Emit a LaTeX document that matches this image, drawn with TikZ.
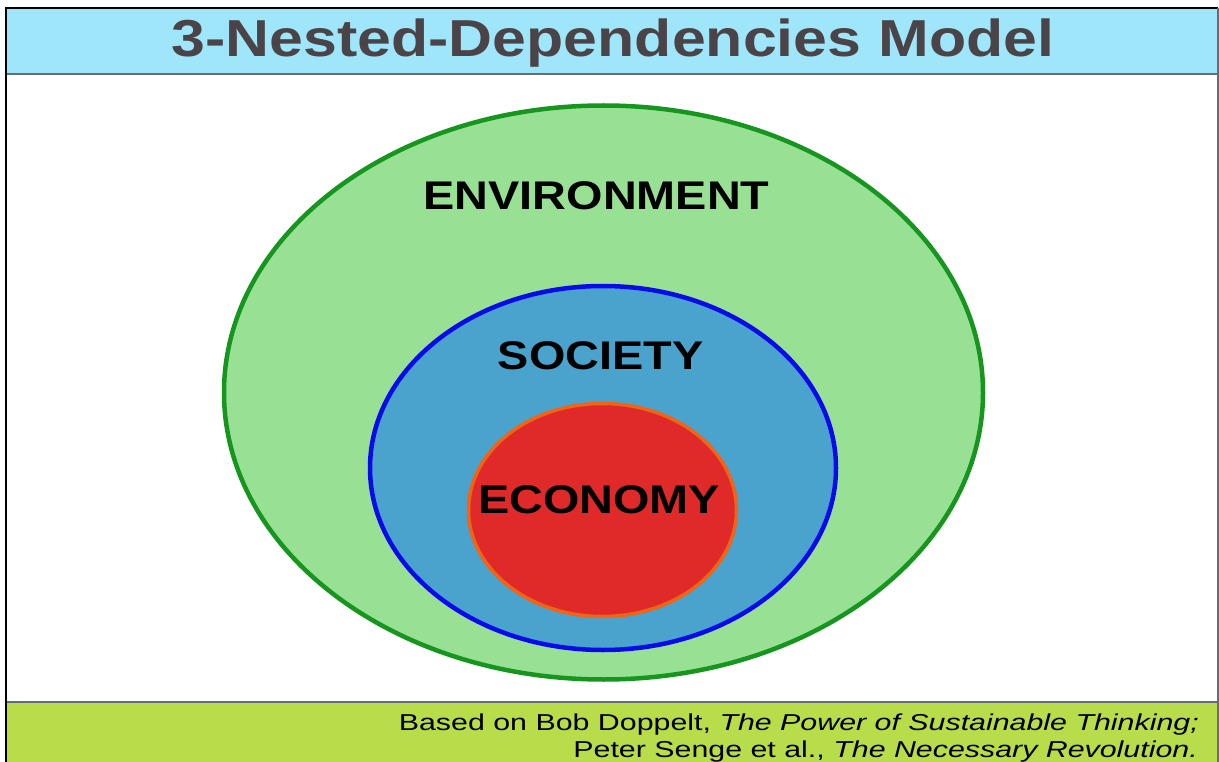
\documentclass[tikz,border=0pt]{standalone}
\usepackage{fontspec}
\setmainfont{Liberation Sans}
\newfontfamily\widefont[FakeStretch=1.17]{Liberation Sans}
\newfontfamily\footfont[FakeStretch=1.32]{Liberation Sans}
\usetikzlibrary{shapes.geometric}
\definecolor{titlebg}{RGB}{160,230,250}
\definecolor{titlefg}{RGB}{74,68,72}
\definecolor{envfill}{RGB}{152,224,148}
\definecolor{envline}{RGB}{22,150,30}
\definecolor{socfill}{RGB}{74,163,204}
\definecolor{socline}{RGB}{10,10,235}
\definecolor{ecofill}{RGB}{224,42,42}
\definecolor{ecoline}{RGB}{240,100,20}
\definecolor{footbg}{RGB}{184,220,74}
\definecolor{rulegray}{RGB}{100,110,115}
\tikzset{
  ring/.style={ellipse, inner sep=0pt, line width=4.5pt},
  label/.style={font=\widefont\bfseries\fontsize{40}{44}\selectfont, anchor=base, inner sep=0pt, text=black},
  footline/.style={font=\footfont\fontsize{23}{27}\selectfont, anchor=base east, inner sep=0pt, text=black},
}
\begin{document}
\begin{tikzpicture}[x=1pt,y=-1pt]
\useasboundingbox (0,0) rectangle (1219,762);
\fill[white] (0,0) rectangle (1219,762);
% title bar
\fill[titlebg] (6,8) rectangle (1218,74);
\draw[rulegray, line width=1.5pt] (6,74) -- (1218,74);
% footer
\fill[footbg] (6,702) rectangle (1218,762);
\draw[rulegray, line width=1.5pt] (6,702) -- (1218,702);
% frame
\draw[black, line width=2.5pt] (6,762) -- (6,8) -- (1218,8);
\draw[rulegray, line width=1.2pt] (1218,8) -- (1218,762);
% title
\node[font=\widefont\bfseries\fontsize{52}{56}\selectfont, text=titlefg, anchor=base, inner sep=0pt] (title) at (613,57) {3-Nested-Dependencies Model};
% ellipses
\node[ring, draw=envline, fill=envfill, minimum width=759pt, minimum height=574pt] (env) at (603.5,392.5) {};
\node[ring, draw=socline, fill=socfill, minimum width=466pt, minimum height=364pt] (soc) at (603,468) {};
\node[ring, draw=ecoline, fill=ecofill, line width=3.5pt, minimum width=268pt, minimum height=213pt] (eco) at (602.5,510) {};
% labels
\node[label] (envlab) at (596.5,210) {ENVIRONMENT};
\node[label] (soclab) at (600.5,369) {SOCIETY};
\node[label] (ecolab) at (599,513) {ECONOMY};
% footer text
\node[footline] (foot1) at (1199,730) {Based on Bob Doppelt, \textit{The Power of Sustainable Thinking;}};
\node[footline] (foot2) at (1198,757) {Peter Senge et al., \textit{The Necessary Revolution.}};
\end{tikzpicture}
\end{document}
